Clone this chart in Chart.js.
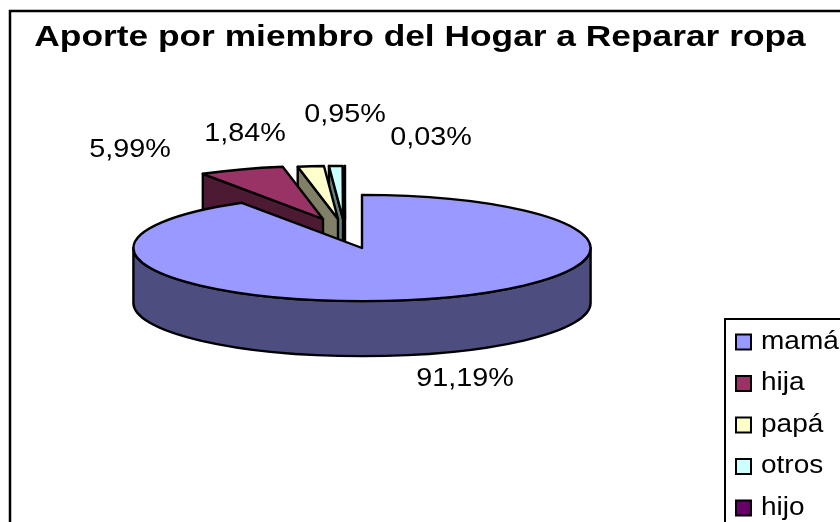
<!DOCTYPE html>
<html><head><meta charset="utf-8">
<style>html,body{margin:0;padding:0;background:#fff;overflow:hidden}canvas{display:block}</style>
<script src="https://cdn.jsdelivr.net/npm/chart.js@4"></script></head>
<body><div style="width:840px;height:522px"><canvas id="c" width="840" height="522"></canvas></div>
<script>
const categories = ['mamá','hija','papá','otros','hijo'];
const aporte = [91.19,5.99,1.84,0.95,0.03];
const labelTexts = ['91,19%','5,99%','1,84%','0,95%','0,03%'];
const colors = ['#9999FF','#993366','#FFFFCC','#CCFFFF','#660066'];
const wallColors = ['#4D4D80','#4D1A33','#808066','#668080','#330033'];
const titleText = 'Aporte por miembro del Hogar a Reparar ropa';

// presentation settings for the tilted pie
const view = {cx:362, cy:248, squash:53/228, depth:55};
const explode = [[0,0],[-39,-29],[-24,-29],[-19,-29],[-17,-29]];
const labelAt = [[465,379],[130,150],[245,134],[345,115],[431,138]];
const legendBox = {x:725,y:319,w:140,h:230,sw:15,sx:736,tx:761,first:342,step:41.5};
const fontFamily = '"Liberation Sans", Arial, sans-serif';
const textStretch = 1.15, legendStretch = 1.12;

function stretchedText(c,t,x,y,k,align){
  c.save(); c.translate(x,y); c.scale(k,1); c.textAlign=align; c.textBaseline='middle';
  c.fillText(t,0,0); c.restore();
}

const pie3d = {
  id:'pie3d',
  afterLayout(chart){
    const t = chart.titleBlock;
    if(t && !t._wrapped){
      const d = t.draw.bind(t); t._wrapped = true;
      t.draw = ()=>{const c=chart.ctx; c.save(); c.translate(420,0); c.scale(1.218,1); c.translate(-420,0); d(); c.restore();};
    }
  },
  beforeDraw(chart){
    const c = chart.ctx;
    c.save(); c.fillStyle='#fff'; c.fillRect(0,0,840,522);
    c.strokeStyle='#000'; c.lineWidth=2.5; c.strokeRect(10,11,860,540);
    c.restore();
  },
  beforeDatasetsDraw(chart){
    const c = chart.ctx, arcs = chart.getDatasetMeta(0).data;
    const rx = arcs[0].outerRadius, ry = rx*view.squash, d = view.depth;
    c.save(); c.lineJoin='round'; c.lineWidth=2.4; c.strokeStyle='#000';
    const pt=(x0,y0,a)=>[x0+rx*Math.cos(a), y0+ry*Math.sin(a)];
    for(const i of [4,3,2,1,0]){
      const a=arcs[i], x0=view.cx+explode[i][0], y0=view.cy+explode[i][1];
      const s=a.startAngle, e=a.endAngle;
      if(i>0){
        const p=pt(x0,y0,s);
        c.beginPath(); c.moveTo(x0,y0); c.lineTo(p[0],p[1]); c.lineTo(p[0],p[1]+d); c.lineTo(x0,y0+d); c.closePath();
        c.fillStyle=wallColors[i]; c.fill(); c.stroke();
      } else {
        c.beginPath(); c.ellipse(x0,y0,rx,ry,0,0,Math.PI); c.lineTo(x0-rx,y0+d);
        c.ellipse(x0,y0+d,rx,ry,0,Math.PI,0,true); c.closePath();
        c.fillStyle=wallColors[i]; c.fill(); c.stroke();
      }
      c.beginPath(); c.moveTo(x0,y0); c.ellipse(x0,y0,rx,ry,0,s,e); c.closePath();
      c.fillStyle=colors[i]; c.fill(); c.stroke();
    }
    c.restore();
    return false;
  },
  afterDraw(chart){
    const c = chart.ctx;
    c.save(); c.fillStyle='#000'; c.font='400 25px '+fontFamily;
    labelTexts.forEach((t,i)=>stretchedText(c,t,labelAt[i][0],labelAt[i][1],textStretch,'center'));
    const L=legendBox;
    c.lineWidth=2; c.strokeStyle='#000'; c.fillStyle='#fff';
    c.fillRect(L.x,L.y,L.w,L.h); c.strokeRect(L.x,L.y,L.w,L.h);
    c.lineWidth=2;
    categories.forEach((t,i)=>{
      const y=L.first+i*L.step;
      c.fillStyle=colors[i]; c.fillRect(L.sx,y-L.sw/2,L.sw,L.sw); c.strokeRect(L.sx,y-L.sw/2,L.sw,L.sw);
      c.fillStyle='#000'; stretchedText(c,t,L.tx,y,legendStretch,'left');
    });
    c.restore();
  }
};

new Chart(document.getElementById('c'),{
  type:'pie',
  data:{labels:categories,datasets:[{data:aporte,backgroundColor:colors,borderColor:'#000',borderWidth:2}]},
  options:{
    responsive:false,animation:false,
    layout:{padding:{bottom:6}},
    plugins:{
      legend:{display:false},tooltip:{enabled:false},
      title:{display:true,text:titleText,color:'#000',font:{family:fontFamily,size:29,weight:'bold'},padding:{top:21,bottom:1}}
    }
  },
  plugins:[pie3d]
});
</script></body></html>
